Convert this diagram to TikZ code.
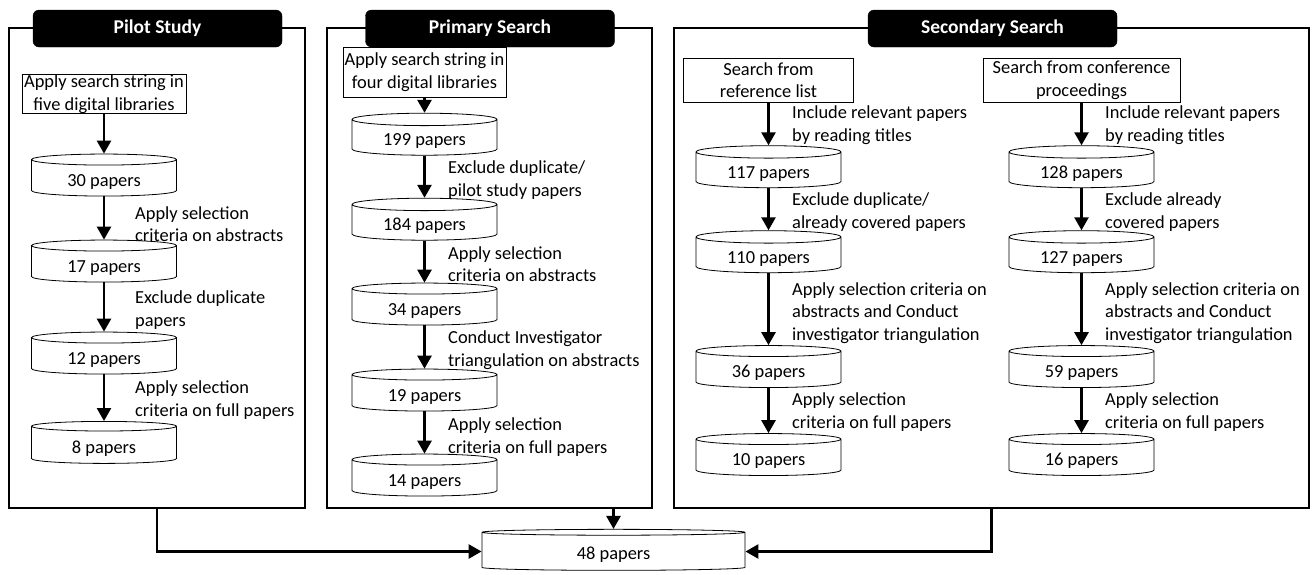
\documentclass[tikz,border=0pt]{standalone}
\usepackage{fontspec}
\setmainfont{Carlito}
\usepackage{tikz}
\usetikzlibrary{arrows.meta}
\usetikzlibrary{shapes.geometric}
\usetikzlibrary{positioning}
\tikzset{>=latex}
\tikzstyle{grp} = [draw, line width = 2.4pt, rectangle, inner sep = 0]
\tikzstyle{tab} = [draw, fill = black, text = white, rounded corners = 6pt, minimum width = 249pt, minimum height = 37pt, font = \fontsize{19.5}{22}\selectfont\bfseries]
\tikzstyle{src} = [draw, line width = 0.8pt, align = center, inner sep = 0, fill = white]
\tikzstyle{papers} = [draw, line width = 0.8pt, cylinder, shape border rotate = 90, aspect = 0.15, minimum width = 145pt, minimum height = 42pt, inner sep = 0, text height = 16pt, text depth = 0pt, fill = white]
\tikzstyle{flow} = [-{Triangle[width=14pt, length=13pt]}, line width = 2.6pt]
\tikzstyle{lbl} = [anchor = west, align = left, inner sep = 0]

\begin{document}
\begin{tikzpicture}[x=1pt, y=-1pt, font=\fontsize{18.4}{22.5}\selectfont]
\useasboundingbox (0, 0) rectangle (1312, 574);

% pilot study
\node [grp, minimum width = 296pt, minimum height = 480pt] (pilot) at (157, 268) {};
\node [tab] (pilotT) at (157.5, 28.5) {Pilot Study};
\node [src, minimum width = 164pt, minimum height = 38pt] (p0) at (104, 94) {Apply search string in\\five digital libraries};
\node [papers] (p1) at (104, 178) {30 papers};
\node [papers] (p2) at (104, 264) {17 papers};
\node [papers] (p3) at (104, 356) {12 papers};
\node [papers] (p4) at (104, 445) {8 papers};
\draw [flow] (p0) to (p1);
\draw [flow] (p1) to (p2);
\draw [flow] (p2) to (p3);
\draw [flow] (p3) to (p4);
\node [lbl] at (135, 224) {Apply selection\\criteria on abstracts};
\node [lbl] at (135, 310) {Exclude duplicate\\papers};
\node [lbl] at (135, 400) {Apply selection\\criteria on full papers};

% primary search
\node [grp, minimum width = 325pt, minimum height = 480pt] (primary) at (489.5, 268) {};
\node [tab] (primaryT) at (490, 28.5) {Primary Search};
\node [src, minimum width = 163pt, minimum height = 50pt] (q0) at (424.5, 72) {Apply search string in\\four digital libraries};
\node [papers] (q1) at (424.5, 137.5) {199 papers};
\node [papers] (q2) at (424.5, 222.5) {184 papers};
\node [papers] (q3) at (424.5, 307) {34 papers};
\node [papers] (q4) at (424.5, 393) {19 papers};
\node [papers] (q5) at (424.5, 478) {14 papers};
\draw [flow] (q0) to (q1);
\draw [flow] (q1) to (q2);
\draw [flow] (q2) to (q3);
\draw [flow] (q3) to (q4);
\draw [flow] (q4) to (q5);
\node [lbl] at (448, 180) {Exclude duplicate/\\pilot study papers};
\node [lbl] at (448, 264) {Apply selection\\criteria on abstracts};
\node [lbl] at (448, 350) {Conduct Investigator\\triangulation on abstracts};
\node [lbl] at (448, 437) {Apply selection\\criteria on full papers};

% secondary search
\node [grp, minimum width = 635pt, minimum height = 480pt] (secondary) at (991.5, 268) {};
\node [tab] (secondaryT) at (992.5, 28.5) {Secondary Search};
% reference list
\node [src, minimum width = 170pt, minimum height = 44pt] (r0) at (768.5, 80) {Search from\\reference list};
\node [papers] (r1) at (768.5, 170) {117 papers};
\node [papers] (r2) at (768.5, 255) {110 papers};
\node [papers] (r3) at (768.5, 369.5) {36 papers};
\node [papers] (r4) at (768.5, 457.5) {10 papers};
\draw [flow] (r0) to (r1);
\draw [flow] (r1) to (r2);
\draw [flow] (r2) to (r3);
\draw [flow] (r3) to (r4);
\node [lbl] at (792, 125) {Include relevant papers\\by reading titles};
\node [lbl] at (792, 212) {Exclude duplicate/\\already covered papers};
\node [lbl] at (792, 313) {Apply selection criteria on\\abstracts and Conduct\\investigator triangulation};
\node [lbl] at (792, 412) {Apply selection\\criteria on full papers};
% conference proceedings
\node [src, minimum width = 197pt, minimum height = 44pt] (c0) at (1081.5, 80) {Search from conference\\proceedings};
\node [papers] (c1) at (1081.5, 170) {128 papers};
\node [papers] (c2) at (1081.5, 255) {127 papers};
\node [papers] (c3) at (1081.5, 369.5) {59 papers};
\node [papers] (c4) at (1081.5, 457.5) {16 papers};
\draw [flow] (c0) to (c1);
\draw [flow] (c1) to (c2);
\draw [flow] (c2) to (c3);
\draw [flow] (c3) to (c4);
\node [lbl] at (1105, 125) {Include relevant papers\\by reading titles};
\node [lbl] at (1105, 212) {Exclude already\\covered papers};
\node [lbl] at (1105, 313) {Apply selection criteria on\\abstracts and Conduct\\investigator triangulation};
\node [lbl] at (1105, 412) {Apply selection\\criteria on full papers};

% total
\node [papers, aspect = 0.08, minimum width = 263pt, minimum height = 41pt] (total) at (613.5, 551.5) {48 papers};
\draw [flow] (pilot.south) |- (total.west);
\draw [flow] (primary.south -| total.north) -- (total.north);
\draw [flow] (secondary.south) |- (total.east);
\end{tikzpicture}
\end{document}
